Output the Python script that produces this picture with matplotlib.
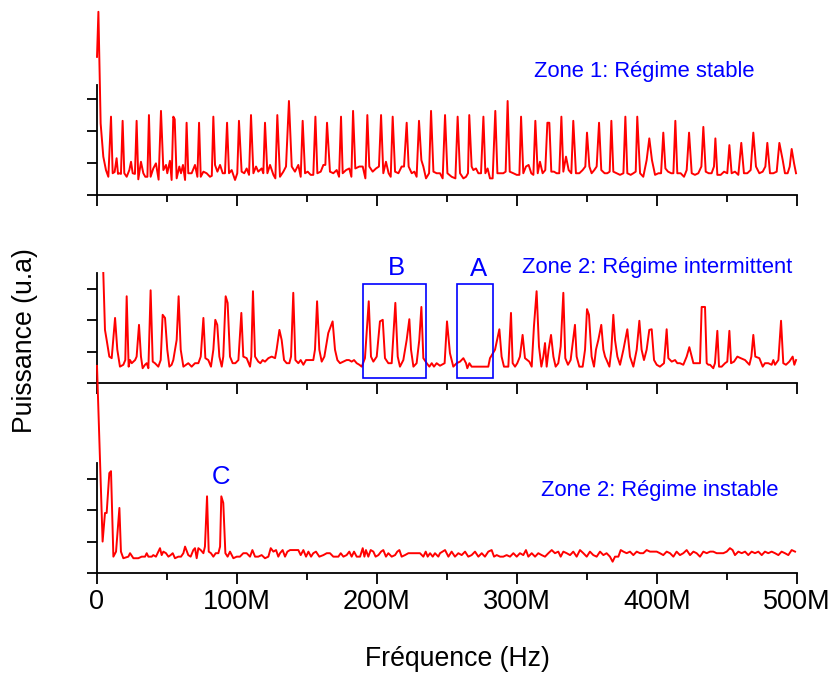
import numpy as np
import matplotlib
matplotlib.use('Agg')
import matplotlib.pyplot as plt
from matplotlib.patches import Rectangle

plt.rcParams['font.family'] = ['Liberation Sans', 'DejaVu Sans']

# ==================== données (fréquence en MHz, puissance u.a) ====================
# Zone 1 : pics réguliers
top_peaks = [
    (1.0, 5.73), (10.0, 2.45), (18.3, 2.32), (28.3, 2.32), (37.1, 2.5), (45.7, 2.63),
    (54.5, 2.45), (55.5, 2.37), (64.0, 2.26), (72.9, 2.26), (83.1, 2.45), (92.9, 2.26),
    (101.4, 2.32), (110.0, 2.5), (120.0, 2.26), (128.8, 2.5), (137.1, 2.94), (146.9, 2.32),
    (156.0, 2.45), (164.3, 2.26), (174.3, 2.45), (182.9, 2.63), (193.1, 2.5), (202.9, 2.5),
    (211.2, 2.45), (221.2, 2.26), (230.0, 2.32), (238.6, 2.63), (248.6, 2.5), (257.6, 2.45),
    (265.9, 2.5), (276.0, 2.45), (284.5, 2.63), (293.3, 2.94), (302.9, 2.45), (313.1, 2.32),
    (321.7, 2.26), (323.1, 2.26), (331.7, 2.45), (340.2, 2.32), (350.0, 1.95), (358.6, 2.26),
    (367.4, 2.32), (377.4, 2.45), (385.9, 2.45), (394.5, 1.77), (404.5, 1.95), (413.1, 2.32),
    (422.9, 1.95), (433.1, 2.13), (441.7, 1.77), (451.7, 1.56), (460.2, 1.63), (468.8, 1.95),
    (478.8, 1.63), (487.4, 1.63), (496.2, 1.44),
]
top_base = [
    (0.0, 4.32), (2.6, 2.24), (4.5, 1.2), (6.4, 0.78), (8.1, 0.57),
    (11.2, 0.68), (12.6, 0.72), (14.0, 1.15), (15.0, 0.66), (16.0, 0.68), (17.1, 0.66),
    (19.5, 0.68), (21.2, 0.57), (23.1, 0.78), (24.3, 1.04), (25.5, 0.68), (27.1, 0.66),
    (29.5, 0.49), (31.4, 1.04), (33.1, 0.68), (34.5, 0.57), (36.0, 0.57),
    (38.3, 0.57), (40.2, 0.83), (42.1, 0.99), (44.0, 0.48),
    (47.4, 0.78), (49.3, 0.94), (50.2, 0.68), (52.1, 1.07), (53.3, 0.47),
    (56.9, 0.52), (58.8, 0.89), (60.0, 0.68), (61.4, 0.94), (62.9, 0.47),
    (65.2, 0.68), (67.6, 0.68), (70.0, 0.94), (71.7, 0.57),
    (74.1, 0.57), (76.0, 0.73), (78.3, 0.68), (80.7, 0.57), (82.0, 0.6),
    (84.3, 0.94), (86.0, 0.73), (87.9, 0.94), (89.8, 0.68), (91.4, 0.68),
    (94.3, 0.68), (96.2, 0.78), (98.6, 0.47), (100.2, 0.68),
    (103.3, 0.73), (105.2, 0.68), (106.9, 0.83), (108.6, 0.63),
    (111.7, 0.68), (113.6, 0.89), (115.2, 0.73), (117.6, 0.83), (118.8, 0.68),
    (121.7, 0.68), (123.6, 0.94), (126.0, 0.63), (127.4, 0.52),
    (130.7, 0.57), (133.1, 0.73), (135.0, 0.89),
    (139.1, 0.89), (141.4, 0.73), (143.8, 0.94), (145.5, 0.57),
    (148.6, 0.68), (150.5, 0.73), (152.6, 0.63), (154.5, 0.63),
    (157.4, 0.68), (159.8, 0.73), (161.7, 0.94), (163.1, 0.94),
    (166.4, 0.73), (168.8, 0.68), (171.2, 0.78), (172.9, 0.57),
    (175.5, 0.68), (177.9, 0.78), (180.2, 0.83), (181.7, 0.57),
    (184.5, 0.83), (187.4, 0.89), (189.8, 0.89), (191.7, 0.52),
    (194.5, 0.89), (196.9, 0.73), (199.3, 0.83), (201.4, 0.89),
    (204.5, 0.68), (206.4, 1.04), (208.3, 0.68), (209.8, 0.57),
    (212.9, 0.73), (215.3, 0.68), (217.6, 0.89), (219.3, 0.89),
    (222.6, 0.89), (224.8, 0.68), (226.7, 0.73), (228.3, 0.57),
    (231.7, 1.09), (233.1, 0.89), (235.0, 0.52), (237.2, 0.68),
    (240.3, 0.73), (242.6, 0.68), (245.0, 0.68), (246.9, 0.52),
    (250.3, 0.68), (253.3, 0.57), (256.0, 0.52),
    (259.3, 0.68), (261.7, 0.52), (263.6, 0.57), (265.0, 0.68),
    (267.6, 0.89), (268.8, 0.78), (270.7, 0.83), (272.4, 0.68), (274.3, 0.68),
    (277.4, 0.68), (279.0, 0.83), (280.7, 0.52), (282.6, 0.52),
    (286.0, 0.68), (287.9, 0.68), (290.2, 0.68), (291.9, 0.73),
    (294.8, 0.73), (297.4, 0.68), (299.8, 0.63), (301.7, 0.63),
    (304.5, 0.68), (306.4, 0.89), (308.3, 0.94), (310.2, 0.68), (311.7, 0.63),
    (314.8, 0.68), (316.4, 1.04), (318.3, 0.68), (320.2, 0.78),
    (324.5, 0.73), (326.4, 0.73), (328.3, 0.68), (330.2, 0.68),
    (333.1, 0.73), (335.0, 1.2), (336.9, 0.78), (338.8, 0.68),
    (342.1, 0.68), (344.5, 0.68), (346.9, 0.78), (348.8, 0.89),
    (351.7, 0.89), (353.3, 0.68), (355.2, 0.78), (356.9, 0.89),
    (360.2, 0.78), (362.6, 0.68), (364.5, 0.68), (366.2, 0.73),
    (368.8, 0.73), (371.2, 0.68), (373.6, 0.63), (376.0, 0.68),
    (378.8, 0.68), (381.2, 0.63), (383.1, 0.68), (384.8, 0.73),
    (387.9, 0.68), (390.2, 0.57), (392.6, 1.09),
    (396.4, 1.09), (398.6, 0.63), (401.0, 0.68), (402.9, 0.68),
    (406.0, 0.83), (407.9, 0.73), (410.2, 0.68), (411.7, 0.68),
    (414.5, 0.68), (416.9, 0.68), (419.3, 0.57), (421.2, 0.78),
    (424.8, 0.68), (427.1, 0.63), (429.5, 0.68), (431.7, 0.89),
    (434.8, 0.73), (436.9, 0.68), (439.0, 0.68), (440.7, 0.89),
    (443.1, 0.63), (445.5, 0.63), (447.9, 0.73), (450.2, 0.68),
    (453.3, 0.68), (455.7, 0.73), (458.1, 0.63),
    (462.1, 0.68), (464.5, 0.68), (466.9, 0.78),
    (470.7, 0.89), (473.1, 0.68), (475.5, 0.73), (477.4, 0.89),
    (480.7, 0.68), (483.1, 0.68), (485.5, 0.73),
    (489.8, 1.09), (491.4, 0.68), (493.3, 0.68), (494.8, 0.89),
    (497.9, 0.99), (499.3, 0.68),
]

# Zone 2 : régime intermittent
mid_trace = [
    (4.5, 3.5), (5.7, 1.69), (6.9, 1.37), (8.8, 0.84), (10.5, 0.79), (12.9, 2.07), (14.5, 1.06),
    (16.4, 0.52), (18.8, 0.58), (20.2, 0.73), (21.2, 2.76), (22.6, 0.52), (23.6, 0.73), (24.8, 0.63),
    (27.2, 0.73), (28.3, 0.84), (30.0, 1.85), (31.4, 0.84), (32.6, 0.47), (34.3, 0.58), (35.5, 0.63),
    (36.7, 0.47), (38.3, 2.95), (39.8, 0.68), (41.4, 0.63), (43.8, 0.52), (45.5, 0.73), (46.9, 2.17),
    (48.6, 2.07), (50.2, 1.06), (51.7, 0.52), (53.3, 0.58), (54.5, 0.73), (56.9, 1.37), (58.3, 2.76),
    (59.8, 1.06), (61.7, 0.52), (63.6, 0.58), (65.2, 0.63), (67.6, 0.52), (70.0, 0.63), (72.4, 0.63),
    (74.1, 0.84), (76.0, 2.07), (77.4, 0.79), (79.5, 0.73), (81.4, 0.52), (83.1, 1.06), (84.5, 2.01),
    (85.9, 1.85), (87.4, 0.84), (89.1, 0.52), (90.2, 0.84), (91.9, 2.76), (93.3, 2.55), (95.0, 0.84),
    (96.9, 0.63), (98.8, 0.63), (101.0, 0.73), (103.1, 2.23), (104.5, 0.84), (106.9, 0.79),
    (109.3, 0.52), (110.2, 0.84), (111.4, 2.92), (112.9, 0.84), (115.2, 0.68), (116.7, 0.63),
    (118.3, 0.73), (120.0, 0.68), (122.4, 0.79), (124.8, 0.84), (127.2, 0.79), (128.3, 1.06),
    (130.3, 1.69), (131.9, 1.37), (133.6, 0.73), (135.5, 0.63), (137.4, 0.63), (138.6, 0.84),
    (140.2, 2.87), (141.7, 0.73), (143.8, 0.63), (145.5, 0.73), (147.4, 0.58), (149.3, 0.73),
    (154.5, 0.73), (155.7, 1.06), (157.2, 2.60), (158.8, 1.06), (160.5, 0.68), (162.4, 0.84),
    (165.2, 1.59), (168.3, 1.96), (170.0, 1.06), (171.7, 0.73), (173.6, 0.63), (176.0, 0.68),
    (178.3, 0.73), (180.0, 0.73), (181.9, 0.68), (183.6, 0.73), (185.5, 0.63), (187.4, 0.58),
    (189.1, 0.52), (191.4, 0.79), (194.1, 2.60), (195.7, 0.84), (197.4, 0.68), (199.8, 0.84),
    (202.1, 1.96), (204.1, 2.01), (205.7, 0.79), (208.1, 0.63), (210.5, 0.63), (213.1, 2.55),
    (214.8, 0.84), (216.4, 0.52), (218.8, 0.73), (221.2, 1.37), (223.1, 2.03), (224.3, 1.06),
    (226.0, 0.52), (228.3, 0.63), (230.2, 1.37), (231.7, 2.42), (233.1, 0.79), (235.5, 0.63),
    (237.4, 0.52), (239.1, 0.63), (240.7, 0.52), (242.6, 0.63), (245.0, 0.55), (248.3, 0.63),
    (250.0, 1.96), (252.1, 0.95), (254.5, 0.52), (256.9, 0.63), (259.3, 0.68), (261.7, 0.79),
    (263.6, 0.63), (264.5, 0.47), (266.0, 0.63), (267.6, 0.52), (279.5, 0.52), (280.7, 0.79),
    (284.3, 1.06), (287.4, 1.71), (289.0, 0.84), (290.7, 0.52), (293.8, 0.52), (295.7, 2.23),
    (296.9, 0.63), (298.6, 0.52), (300.2, 0.63), (302.1, 0.84), (304.0, 1.53), (305.7, 0.79),
    (307.4, 0.73), (308.8, 0.68), (310.5, 0.52), (312.1, 1.80), (314.0, 2.92), (315.7, 1.16),
    (317.4, 0.52), (318.8, 0.84), (320.0, 1.27), (321.2, 0.52), (322.6, 1.06), (324.3, 1.53),
    (326.0, 0.84), (327.6, 0.52), (329.5, 0.63), (331.2, 1.16), (333.1, 2.87), (334.5, 0.79),
    (336.4, 0.58), (338.3, 0.73), (339.8, 1.27), (341.4, 1.85), (342.6, 0.84), (344.5, 0.52),
    (346.9, 0.52), (348.6, 1.06), (350.0, 2.35), (351.4, 2.17), (353.3, 0.84), (355.0, 0.52),
    (356.4, 1.06), (358.1, 1.37), (360.2, 1.85), (361.7, 1.06), (362.9, 0.84), (364.0, 0.73),
    (366.0, 0.52), (367.4, 1.06), (368.8, 2.17), (370.0, 1.37), (371.7, 0.84), (373.6, 0.58),
    (376.0, 1.06), (378.8, 1.71), (380.7, 0.84), (383.1, 0.52), (385.5, 1.06), (387.4, 1.98),
    (389.0, 1.06), (390.7, 0.73), (392.6, 1.06), (394.5, 1.69), (396.2, 1.71), (397.9, 0.73),
    (399.8, 0.58), (402.1, 0.52), (405.0, 0.63), (406.9, 1.71), (408.1, 0.79), (410.5, 0.68),
    (412.9, 0.73), (414.5, 0.63), (416.4, 0.63), (418.8, 0.58), (421.2, 0.84), (423.1, 1.14),
    (424.8, 0.84), (426.0, 0.63), (430.7, 0.63), (431.9, 2.42), (434.3, 2.42), (435.5, 0.63),
    (436.7, 0.58), (437.9, 0.58), (440.2, 0.47), (441.4, 0.63), (443.1, 1.66), (444.3, 0.52),
    (446.2, 0.52), (448.6, 0.63), (450.2, 0.68), (451.7, 1.66), (452.9, 0.63), (455.0, 0.68),
    (457.4, 0.84), (459.8, 0.79), (462.9, 0.73), (466.0, 0.58), (467.4, 0.84), (468.8, 1.53),
    (470.2, 0.84), (473.1, 0.79), (475.5, 0.52), (477.1, 0.63), (479.5, 0.63), (481.9, 0.58),
    (483.1, 0.73), (484.3, 0.58), (486.7, 0.73), (488.6, 1.98), (490.2, 0.63), (492.1, 0.58),
    (494.5, 0.68), (496.9, 0.84), (498.1, 0.58), (499.3, 0.73),
]

# Zone 2 : régime instable
bot_trace = [
    (0.0, 6.59), (4.0, 1.0), (5.7, 1.91), (6.9, 1.91), (8.8, 3.18), (10.0, 3.24), (11.7, 0.52),
    (13.6, 0.68), (16.0, 2.07), (17.1, 0.68), (18.8, 0.47), (22.4, 0.52), (23.6, 0.63), (26.0, 0.47),
    (29.5, 0.47), (31.9, 0.52), (34.3, 0.52), (35.5, 0.63), (36.7, 0.52), (39.1, 0.52), (40.2, 0.57),
    (42.1, 0.52), (43.8, 0.68), (45.0, 0.79), (46.2, 0.57), (47.4, 0.68), (49.3, 0.63), (51.0, 0.52),
    (52.6, 0.57), (54.1, 0.63), (55.7, 0.47), (58.1, 0.52), (60.0, 0.52), (61.7, 0.63), (62.9, 0.84),
    (65.2, 0.57), (66.9, 0.52), (68.8, 0.73), (70.0, 0.79), (71.2, 0.47), (72.4, 0.79), (74.1, 0.73),
    (76.0, 0.63), (77.1, 0.84), (78.6, 2.44), (79.8, 0.68), (81.4, 0.63), (83.1, 0.52), (84.8, 0.63),
    (86.7, 0.63), (87.9, 0.84), (88.8, 2.44), (90.2, 2.23), (91.7, 0.63), (93.3, 0.52), (95.0, 0.68),
    (97.4, 0.47), (99.8, 0.52), (102.1, 0.52), (104.5, 0.63), (106.9, 0.63), (109.3, 0.52),
    (111.0, 0.73), (112.9, 0.52), (115.2, 0.52), (117.6, 0.57), (120.0, 0.47), (122.4, 0.52),
    (124.1, 0.79), (126.0, 0.68), (127.9, 0.73), (129.5, 0.52), (130.7, 0.63), (132.6, 0.73),
    (134.3, 0.52), (136.0, 0.68), (137.9, 0.73), (143.8, 0.73), (145.5, 0.57), (147.4, 0.73),
    (149.3, 0.52), (151.0, 0.68), (152.9, 0.52), (154.5, 0.63), (156.4, 0.68), (158.8, 0.52),
    (161.7, 0.57), (164.1, 0.63), (166.4, 0.63), (168.8, 0.52), (172.4, 0.52), (174.1, 0.63),
    (176.0, 0.52), (178.3, 0.57), (180.2, 0.68), (181.9, 0.52), (183.6, 0.68), (185.5, 0.52),
    (187.9, 0.52), (189.8, 0.79), (191.0, 0.52), (192.1, 0.73), (193.8, 0.52), (195.5, 0.73),
    (197.4, 0.68), (199.0, 0.52), (201.0, 0.57), (202.9, 0.68), (204.5, 0.73), (206.4, 0.52),
    (208.1, 0.63), (210.5, 0.52), (212.9, 0.57), (214.5, 0.68), (216.0, 0.73), (217.6, 0.52),
    (220.0, 0.57), (222.4, 0.63), (224.8, 0.63), (228.3, 0.63), (230.7, 0.63), (233.1, 0.52),
    (234.8, 0.68), (236.2, 0.52), (237.9, 0.63), (239.8, 0.52), (241.4, 0.63), (243.8, 0.52),
    (245.0, 0.63), (248.6, 0.73), (251.0, 0.52), (253.3, 0.68), (255.7, 0.52), (258.1, 0.63),
    (260.5, 0.57), (262.9, 0.68), (265.2, 0.52), (267.6, 0.57), (270.0, 0.68), (272.4, 0.52),
    (274.8, 0.63), (277.1, 0.52), (279.5, 0.68), (281.9, 0.73), (283.6, 0.52), (285.5, 0.57),
    (287.9, 0.52), (290.2, 0.52), (292.6, 0.57), (295.0, 0.52), (297.4, 0.63), (299.8, 0.52),
    (302.1, 0.63), (304.5, 0.57), (306.4, 0.73), (308.1, 0.52), (310.5, 0.63), (312.9, 0.52),
    (315.2, 0.63), (317.6, 0.57), (320.0, 0.52), (322.4, 0.63), (324.8, 0.73), (327.1, 0.63),
    (329.5, 0.68), (331.2, 0.52), (333.1, 0.68), (335.5, 0.63), (337.9, 0.57), (340.2, 0.68),
    (342.6, 0.52), (345.0, 0.73), (347.4, 0.63), (349.8, 0.52), (352.1, 0.68), (354.5, 0.57),
    (356.9, 0.52), (359.3, 0.68), (361.7, 0.57), (364.0, 0.63), (366.4, 0.52), (368.3, 0.36),
    (370.0, 0.52), (372.4, 0.52), (374.1, 0.73), (376.0, 0.68), (378.3, 0.63), (380.7, 0.68),
    (383.1, 0.57), (385.5, 0.68), (387.9, 0.63), (390.2, 0.63), (392.6, 0.73), (395.0, 0.68),
    (397.4, 0.68), (399.8, 0.68), (402.1, 0.63), (404.5, 0.57), (406.9, 0.68), (409.3, 0.63),
    (411.7, 0.52), (414.0, 0.68), (416.4, 0.57), (418.8, 0.63), (421.2, 0.73), (423.6, 0.57),
    (426.0, 0.68), (428.3, 0.63), (430.7, 0.52), (433.1, 0.68), (435.5, 0.63), (437.9, 0.68),
    (440.2, 0.68), (442.6, 0.63), (445.0, 0.63), (447.4, 0.63), (449.8, 0.68), (452.1, 0.79),
    (454.0, 0.73), (455.7, 0.57), (458.1, 0.68), (460.5, 0.63), (462.9, 0.68), (465.2, 0.57),
    (467.6, 0.68), (470.0, 0.63), (472.4, 0.68), (474.8, 0.57), (477.1, 0.68), (479.5, 0.63),
    (481.9, 0.68), (484.3, 0.63), (486.7, 0.57), (489.0, 0.68), (491.4, 0.63), (493.8, 0.57),
    (496.2, 0.73), (498.6, 0.68),
]

xticks_major = [0, 100, 200, 300, 400, 500]
xticks_minor = [50, 150, 250, 350, 450]
xtick_labels = ['0', '100M', '200M', '300M', '400M', '500M']

zone_texts = ['Zone 1: Régime stable', 'Zone 2: Régime intermittent', 'Zone 2: Régime instable']
zone_pos = [(390.7, 3.86), (399.8, 3.69), (402.0, 2.61)]

# cadres B et A (f0, f1, y0, y1) dans le panneau du milieu
boxes = {'B': (189.8, 234.8, 0.17, 3.14), 'A': (256.9, 283.1, 0.17, 3.14)}
box_labels = {'B': (214.0, 3.65), 'A': (272.4, 3.63)}
label_C = (88.6, 3.07)

# ==================== tracé ====================
RED = '#ff0000'
BLUE = '#0000ff'

fig = plt.figure(figsize=(8.35, 6.75), dpi=100)
left, width, height = 97 / 835, 700 / 835, 110 / 675
bottoms = [1 - 195 / 675, 1 - 383 / 675, 1 - 573 / 675]
ylims = [3.44, 3.5, 3.5]
axes = [fig.add_axes([left, b, width, height]) for b in bottoms]

top_pts = sorted(top_peaks + top_base)
series = [top_pts, mid_trace, bot_trace]

for i, ax in enumerate(axes):
    f, v = zip(*series[i])
    ax.plot(f, v, color=RED, lw=1.4, clip_on=False, zorder=3)
    ax.set_xlim(0, 500)
    ax.set_ylim(0, ylims[i])
    for s in ['top', 'right']:
        ax.spines[s].set_visible(False)
    for s in ['left', 'bottom']:
        ax.spines[s].set_linewidth(1.3)
    ax.set_yticks([0, 1, 2, 3])
    ax.set_yticklabels([])
    ax.set_xticks(xticks_major)
    ax.set_xticks(xticks_minor, minor=True)
    if i == 2:
        ax.set_xticklabels(xtick_labels, fontsize=19.5)
    else:
        ax.set_xticklabels([])
    ax.tick_params(axis='x', which='major', direction='out', length=7.7, width=1.3, pad=4)
    ax.tick_params(axis='x', which='minor', direction='out', length=4.8, width=1.3)
    ax.tick_params(axis='y', which='major', direction='out', length=7.2, width=1.3)
    ax.patch.set_visible(False)
    tx, ty = zone_pos[i]
    ax.text(tx, ty, zone_texts[i], color=BLUE, fontsize=15.8, ha='center', va='center')

ax_mid = axes[1]
for key, (f0, f1, y0, y1) in boxes.items():
    ax_mid.add_patch(Rectangle((f0, y0), f1 - f0, y1 - y0, fill=False,
                               edgecolor=BLUE, lw=1.2, zorder=4))
    lx, ly = box_labels[key]
    ax_mid.text(lx, ly, key, color=BLUE, fontsize=18.5, ha='center', va='center')

axes[2].text(label_C[0], label_C[1], 'C', color=BLUE, fontsize=18.5, ha='center', va='center')

fig.text(457 / 835, 1 - 659 / 675, 'Fréquence (Hz)', fontsize=19.2, ha='center', va='center')
fig.text(25 / 835, 1 - 341 / 675, 'Puissance (u.a)', fontsize=19.2, ha='center', va='center',
         rotation=90)

fig.savefig('out.png', dpi=100)
